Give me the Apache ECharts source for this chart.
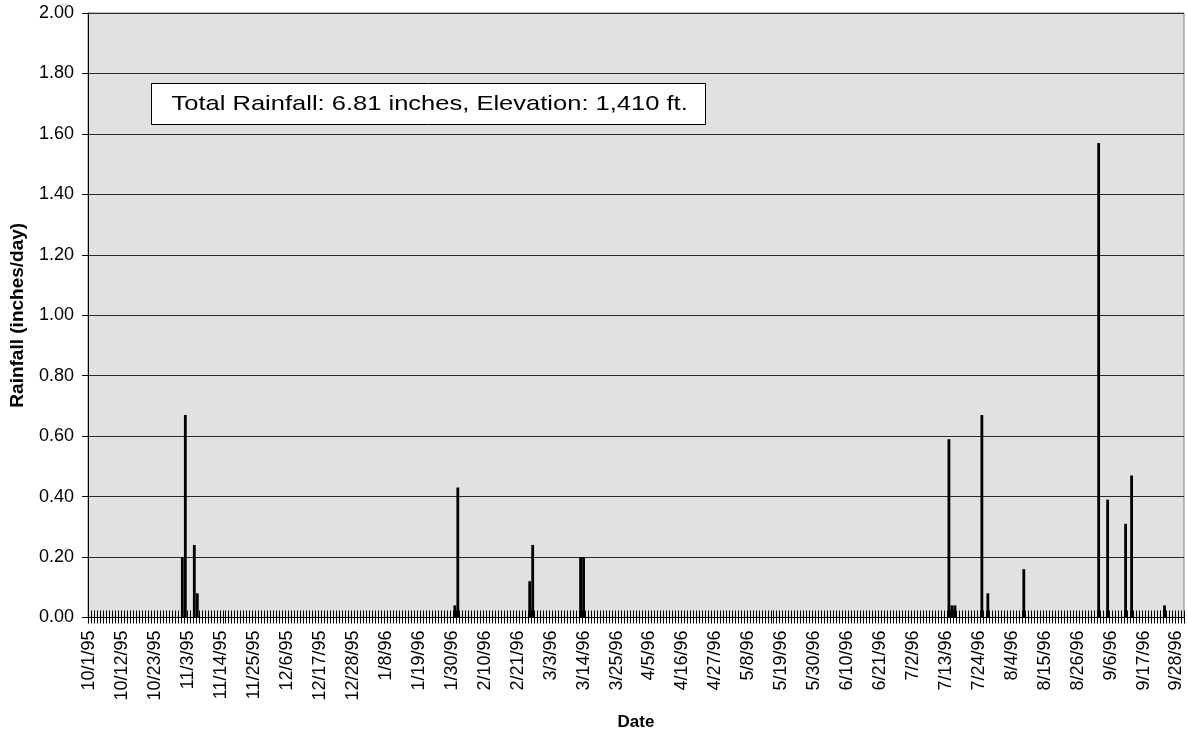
<!DOCTYPE html>
<html>
<head>
<meta charset="utf-8">
<script src="https://cdn.jsdelivr.net/npm/echarts@6/dist/echarts.min.js"></script>
<style>
html,body{margin:0;padding:0;background:#fff;}
#chart{width:1188px;height:732px;}
</style>
</head>
<body>
<div id="chart"></div>
<script>
// Daily categories: 10/1/95 .. 9/30/96 (366 days)
const startYear = 1995, startMonth = 10, startDay = 1, dayCount = 366;
// Rain days (M/D/YY) and amounts (inches/day)
const rainDates = ['11/1/95','11/2/95','11/5/95','11/6/95','1/31/96','2/1/96','2/25/96','2/26/96','3/13/96','3/14/96',
  '7/14/96','7/15/96','7/16/96','7/25/96','7/27/96','8/8/96','9/2/96','9/5/96','9/11/96','9/13/96','9/24/96'];
const rainValues = [0.20,0.67,0.24,0.08,0.04,0.43,0.12,0.24,0.20,0.20,
  0.59,0.04,0.04,0.67,0.08,0.16,1.57,0.39,0.31,0.47,0.04];
const yTicks = ['0.00','0.20','0.40','0.60','0.80','1.00','1.20','1.40','1.60','1.80','2.00'];
const annotation = 'Total Rainfall: 6.81 inches, Elevation: 1,410 ft.';

const categories = [];
{
  const d = new Date(startYear, startMonth - 1, startDay);
  for (let i = 0; i < dayCount; i++) {
    categories.push((d.getMonth() + 1) + '/' + d.getDate() + '/' + String(d.getFullYear()).slice(2));
    d.setDate(d.getDate() + 1);
  }
}
const rainByDate = {};
rainDates.forEach((k, i) => { rainByDate[k] = rainValues[i]; });
const seriesData = categories.map(c => (c in rainByDate ? rainByDate[c] : 0));

const FONT = 'Liberation Sans, Arial, sans-serif';
const chart = echarts.init(document.getElementById('chart'), null, {renderer: 'canvas'});
chart.setOption({
  animation: false,
  backgroundColor: '#ffffff',
  grid: {
    left: 88, right: 4, top: 13, bottom: 114.5,
    containLabel: false,
    outerBoundsMode: 'none',
    show: true, backgroundColor: '#e1e1e1', borderColor: '#808080', borderWidth: 1
  },
  xAxis: [{
    type: 'category',
    data: categories,
    position: 'bottom',
    name: 'Date',
    nameLocation: 'middle',
    nameGap: 96,
    nameTextStyle: {fontFamily: FONT, fontSize: 17, fontWeight: 'bold', color: '#000'},
    axisLine: {show: true, lineStyle: {color: '#000', width: 1}},
    axisTick: {show: true, interval: 0, length: 6, lineStyle: {color: '#000', width: 1}},
    axisLabel: {
      interval: 10, rotate: 90, margin: 13,
      fontFamily: FONT, fontSize: 18, color: '#000'
    },
    splitLine: {show: false}
  }, {
    type: 'category',
    data: categories,
    position: 'bottom',
    axisLine: {show: false},
    axisTick: {show: true, inside: true, interval: 0, length: 7, lineStyle: {color: '#000', width: 1}},
    axisLabel: {show: false},
    splitLine: {show: false}
  }],
  yAxis: {
    type: 'value',
    min: 0, max: 2, interval: 0.2,
    name: 'Rainfall (inches/day)',
    nameLocation: 'middle',
    nameGap: 61,
    nameTextStyle: {fontFamily: FONT, fontSize: 19, fontWeight: 'bold', color: '#000'},
    axisLine: {show: true, lineStyle: {color: '#000', width: 1}},
    axisTick: {show: true, length: 6, lineStyle: {color: '#000', width: 1}},
    axisLabel: {
      margin: 14, fontFamily: FONT, fontSize: 18, color: '#000',
      formatter: v => yTicks[Math.round(v / 0.2)]
    },
    splitLine: {show: true, lineStyle: {color: '#2a2a2a', width: 1}}
  },
  series: [{
    type: 'bar',
    xAxisIndex: 0,
    data: seriesData,
    barWidth: 2.8,
    itemStyle: {color: '#000'},
    z: 3
  }],
  graphic: [{
    type: 'group',
    left: 151, top: 83,
    children: [{
      type: 'rect',
      shape: {x: 0, y: 0, width: 554, height: 41},
      style: {fill: '#fff', stroke: '#000', lineWidth: 1}
    }, {
      type: 'text',
      x: 20, y: 20.5,
      scaleX: 1.215,
      style: {text: annotation, font: '21px ' + FONT, fill: '#000', verticalAlign: 'middle'}
    }]
  }]
});
</script>
</body>
</html>
